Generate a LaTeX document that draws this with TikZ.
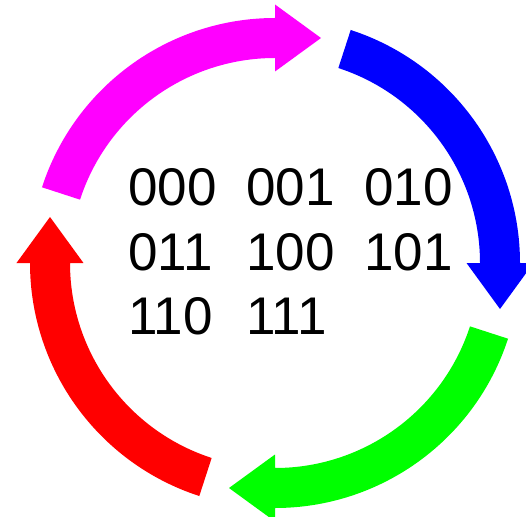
\documentclass[tikz,border=0pt]{standalone}
\usepackage{fontspec}
\setmainfont{Liberation Sans}
\definecolor{arrmagenta}{RGB}{255,0,255}
\definecolor{arrblue}{RGB}{0,0,255}
\definecolor{arrgreen}{RGB}{0,255,0}
\definecolor{arrred}{RGB}{255,0,0}

\begin{document}
\begin{tikzpicture}[x=1pt, y=1pt]
    % mid radius 225, shaft 40 wide, head 67 wide and 46 long
    \def\ro{245}
    \def\ri{205}

    \useasboundingbox (-275,-253) rectangle (251,263);

    % --- four curved arrows, one shape turned by quarter steps ---
    \foreach \col/\rot in {arrmagenta/0, arrblue/-90, arrgreen/-180, arrred/-270} {
        \fill[\col, rotate=\rot] (162:\ro) arc[start angle=162, end angle=90, radius=\ro]
            -- (0,258.5) -- (46,225) -- (0,191.5) -- (0,\ri)
            arc[start angle=90, end angle=162, radius=\ri] -- cycle;
    }

    % --- binary codes in the middle ---
    \foreach \code/\px/\py in {000/-147/57, 001/-29/57, 010/89/57,
                               011/-147/-7, 100/-29/-7, 101/89/-7,
                               110/-147/-71, 111/-29/-71} {
        \node[anchor=base west, inner sep=0pt, font=\fontsize{53}{64}\selectfont]
            (c\code) at (\px,\py) {\code};
    }
\end{tikzpicture}
\end{document}
